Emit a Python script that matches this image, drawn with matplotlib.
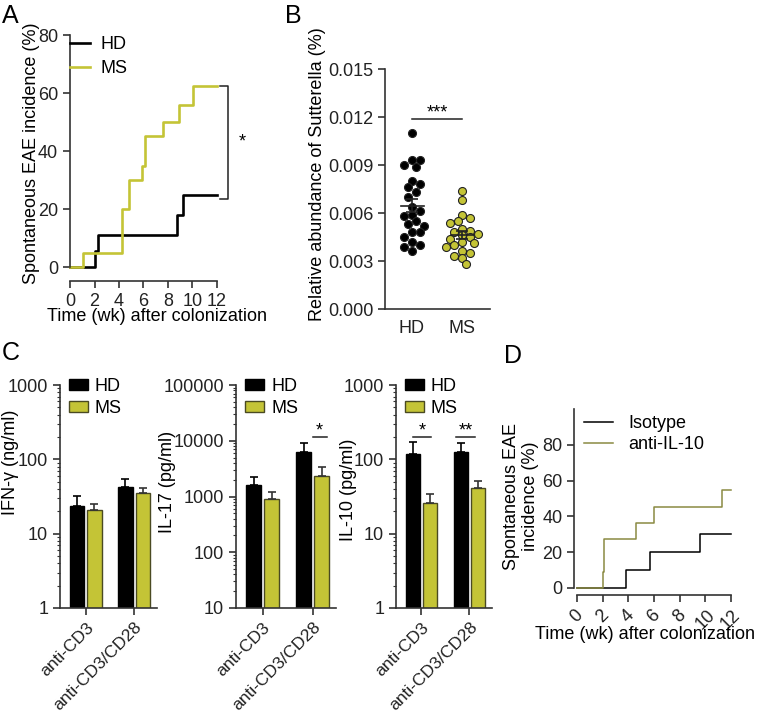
import numpy as np
import matplotlib.pyplot as plt
from matplotlib.patches import Patch
from matplotlib.ticker import FormatStrFormatter, FuncFormatter, NullFormatter

plt.rcParams['font.family'] = ['Liberation Sans', 'DejaVu Sans']
plt.rcParams['font.size'] = 13
plt.rcParams['axes.linewidth'] = 1.2
plt.rcParams['xtick.major.width'] = 1.2
plt.rcParams['ytick.major.width'] = 1.2
plt.rcParams['xtick.major.size'] = 5
plt.rcParams['ytick.major.size'] = 5

W, H = 762, 716
MS_COL = '#c4c436'
MS_EDGE = '#4a4a22'
OLIVE = '#8a8a42'
AX_COL = '#333333'

# ---- panel A: EAE incidence after colonization
weeks_hd = [0, 2.0, 2.25, 8.75, 9.25, 12]
inc_hd = [0, 5.6, 11.1, 17.8, 24.8, 24.8]
weeks_ms = [0, 1.1, 4.25, 4.84, 5.9, 6.12, 7.56, 8.9, 10.07, 12]
inc_ms = [0, 5, 20, 30, 35, 45, 50, 56, 62.5, 62.5]

# ---- panel B: relative abundance of Sutterella
sutt_hd = [0.0110, 0.0093, 0.0093, 0.0090, 0.0089, 0.0080, 0.0078, 0.0076,
           0.0073, 0.0070, 0.0064, 0.0061, 0.0059, 0.0058, 0.0055, 0.0053,
           0.0052, 0.0048, 0.0048, 0.0045, 0.0042, 0.0040, 0.0039, 0.0036]
sutt_ms = [0.0074, 0.0068, 0.0059, 0.0057, 0.0055, 0.0054, 0.0050, 0.0049,
           0.0048, 0.0047, 0.0046, 0.0045, 0.0044, 0.0042, 0.0041, 0.0040,
           0.0039, 0.0036, 0.0035, 0.0033, 0.0032, 0.0028]

# ---- panel C: cytokines (mean, upper SEM)
stims = ['anti-CD3', 'anti-CD3/CD28']
ifng_hd, ifng_hd_err = [23.6, 42.9], [8.4, 10.9]
ifng_ms, ifng_ms_err = [21.0, 34.9], [4.3, 6.7]
il17_hd, il17_hd_err = [1590, 6290], [680, 2700]
il17_ms, il17_ms_err = [910, 2360], [310, 1070]
il10_hd, il10_hd_err = [118, 126], [51, 38]
il10_ms, il10_ms_err = [25.6, 40.7], [8.2, 10.9]

# ---- panel D: anti-IL-10 treatment
weeks_iso = [0, 3.85, 5.7, 9.55, 12]
inc_iso = [0, 10, 20, 30, 30]
weeks_il10 = [0, 2.0, 2.1, 4.6, 6.0, 11.3, 12]
inc_il10 = [0, 9.1, 27.3, 36.4, 45.5, 54.5, 54.5]


def px_axes(fig, left, top, width, height):
    return fig.add_axes([left / W, 1 - (top + height) / H, width / W, height / H])


def style(ax):
    for s in ['top', 'right']:
        ax.spines[s].set_visible(False)
    for s in ['left', 'bottom']:
        ax.spines[s].set_color(AX_COL)
    ax.tick_params(colors=AX_COL, labelcolor='#222222')


def swarm_x(ax, values, center, d_px):
    to_px = ax.transData.transform
    x0 = to_px((center, 0))[0]
    placed = []
    xs = np.empty(len(values))
    for i in np.argsort(values)[::-1]:
        py = to_px((center, values[i]))[1]
        for off in [0, 1, -1, 2, -2, 3, -3, 4, -4, 5, -5, 6, -6]:
            cx = x0 + off * d_px * 0.5
            if all(np.hypot(cx - qx, py - qy) >= d_px * 0.8 for qx, qy in placed):
                break
        placed.append((cx, py))
        xs[i] = ax.transData.inverted().transform((cx, py))[0]
    return xs


fig = plt.figure(figsize=(W / 100, H / 100), dpi=100)

# ---------------- A
ax = px_axes(fig, 70, 35, 147, 232)
style(ax)
ax.spines['bottom'].set_position(('outward', 10))
ax.step(weeks_hd, inc_hd, where='post', color='black', lw=1.9, label='HD', clip_on=False)
ax.step(weeks_ms, inc_ms, where='post', color=MS_COL, lw=1.9, label='MS', clip_on=False)
ax.set_xlim(0, 12)
ax.set_ylim(0, 80)
ax.set_xticks(range(0, 13, 2))
ax.set_yticks(range(0, 81, 20))
ax.set_xlabel('Time (wk) after colonization')
ax.xaxis.set_label_coords(0.59, -0.178)
ax.set_ylabel('Spontaneous EAE incidence (%)')
ax.yaxis.set_label_coords(-0.205, 0.49)
ax.legend(loc='upper left', bbox_to_anchor=(0.0, 0.995), handlelength=1.1,
          handletextpad=0.6, labelspacing=0.4, frameon=False,
          borderaxespad=0, borderpad=0)
top, bot = inc_ms[-1], inc_hd[-1] - 1.3
ax.plot([12.25, 12.9, 12.9, 12.25], [top, top, bot, bot], color='#222222',
        lw=1.1, clip_on=False)
ax.text(14.1, (top + bot) / 2, '*', ha='center', va='center', fontsize=13)

# ---------------- B
ax = px_axes(fig, 385, 69, 105, 240)
style(ax)
ax.set_xlim(-0.54, 1.56)
ax.set_ylim(0, 0.015)
ax.set_yticks(np.arange(0, 0.0151, 0.003))
ax.yaxis.set_major_formatter(FormatStrFormatter('%.3f'))
ax.set_xticks([0, 1])
ax.set_xticklabels(['HD', 'MS'])
ax.tick_params(axis='x', length=0, pad=8)
ax.set_ylabel('Relative abundance of Sutterella (%)')
ax.yaxis.set_label_coords(-0.56, 0.56)
for pos, vals, fc in [(0, sutt_hd, 'black'), (1, sutt_ms, MS_COL)]:
    vals = np.array(vals)
    xs = swarm_x(ax, vals, pos, 8)
    ax.scatter(xs, vals, s=33, color=fc, edgecolor='#222222', linewidth=0.8, zorder=2)
    m = vals.mean()
    sem = vals.std(ddof=1) / np.sqrt(len(vals))
    ax.plot([pos - 0.23, pos + 0.23], [m, m], color='#222222', lw=1.2, zorder=3)
    ax.errorbar(pos, m, yerr=sem, fmt='none', ecolor='#222222', elinewidth=1.2,
                capsize=4, capthick=1.2, zorder=3)
ax.plot([0, 1], [0.0119, 0.0119], color='#222222', lw=1.1)
ax.annotate('***', (0.5, 0.0119), xytext=(0, 1), textcoords='offset points',
            ha='center', va='baseline', fontsize=13)

# ---------------- C
c_panels = [
    (60, 97, ifng_hd, ifng_hd_err, ifng_ms, ifng_ms_err, (1, 1000), 'IFN-γ (ng/ml)', (-0.42, 0.655), []),
    (236, 100, il17_hd, il17_hd_err, il17_ms, il17_ms_err, (10, 100000), 'IL-17 (pg/ml)', (-0.6, 0.565),
     [((1.0, 1.29), 11700, '*')]),
    (396, 96, il10_hd, il10_hd_err, il10_ms, il10_ms_err, (1, 1000), 'IL-10 (pg/ml)', (-0.41, 0.53),
     [((-0.17, 0.2), 200, '*'), ((0.71, 1.12), 200, '**')]),
]
x = np.arange(len(stims))
for left, width, hd, hd_err, ms, ms_err, ylim, ylab, lab_xy, sigs in c_panels:
    ax = px_axes(fig, left, 385, width, 223)
    style(ax)
    ax.set_yscale('log')
    ax.set_ylim(*ylim)
    ax.set_xlim(-0.53, 1.47)
    ax.yaxis.set_major_formatter(FuncFormatter(lambda v, p: f'{v:g}'))
    ax.yaxis.set_minor_formatter(NullFormatter())
    ax.bar(x - 0.18, hd, width=0.3, color='black', edgecolor='black', lw=1)
    ax.bar(x + 0.18, ms, width=0.3, color=MS_COL, edgecolor=MS_EDGE, lw=1)
    ax.errorbar(x - 0.18, hd, yerr=[np.zeros(2), hd_err], fmt='none', ecolor='black',
                elinewidth=1.2, capsize=3, capthick=1.2)
    ax.errorbar(x + 0.18, ms, yerr=[np.zeros(2), ms_err], fmt='none', ecolor='#333333',
                elinewidth=1.2, capsize=3, capthick=1.2)
    ax.set_xticks(x)
    ax.set_xticklabels(stims, rotation=45, ha='right', rotation_mode='anchor', fontsize=12.5)
    ax.tick_params(axis='y', which='minor', length=2.5, width=0.8, colors=AX_COL)
    ax.set_ylabel(ylab)
    ax.yaxis.set_label_coords(*lab_xy)
    ax.legend(handles=[Patch(fc='black', ec='black'), Patch(fc=MS_COL, ec=MS_EDGE)],
              labels=['HD', 'MS'], loc='upper left', bbox_to_anchor=(0.09, 1.03),
              frameon=False, handlelength=1.05, handleheight=0.55,
              handletextpad=0.4, labelspacing=0.25, borderaxespad=0, borderpad=0)
    for (x0, x1), yv, lab in sigs:
        ax.plot([x0, x1], [yv, yv], color='#222222', lw=1.1)
        ax.annotate(lab, ((x0 + x1) / 2, yv), xytext=(0, 1), textcoords='offset points',
                    ha='center', va='baseline', fontsize=13)

# ---------------- D
ax = px_axes(fig, 577, 409, 154, 179)
style(ax)
ax.spines['bottom'].set_position(('outward', 5))
ax.spines['left'].set_position(('outward', 2))
ax.step(weeks_iso, inc_iso, where='post', color='black', lw=1.1, label='Isotype', clip_on=False)
ax.step(weeks_il10, inc_il10, where='post', color=OLIVE, lw=1.1, label='anti-IL-10', clip_on=False)
ax.set_xlim(0, 12)
ax.set_ylim(0, 100)
ax.set_yticks(range(0, 81, 20))
ax.set_xticks(range(0, 13, 2))
ax.set_xticklabels([str(v) for v in range(0, 13, 2)], rotation=45, ha='center')
ax.set_xlabel('Time (wk) after colonization')
ax.xaxis.set_label_coords(0.44, -0.215)
ax.set_ylabel('Spontaneous EAE\nincidence (%)', multialignment='center')
ax.yaxis.set_label_coords(-0.245, 0.51)
ax.legend(loc='upper left', bbox_to_anchor=(0.045, 0.965), handlelength=1.6,
          handletextpad=0.85, labelspacing=0.2, frameon=False,
          borderaxespad=0, borderpad=0)

for lab, (xp, yp) in {'A': (2, 4), 'B': (285, 4), 'C': (2, 341), 'D': (504, 344)}.items():
    fig.text(xp / W, 1 - yp / H, lab, fontsize=18, ha='left', va='top')

fig.savefig('out.png', dpi=100)
